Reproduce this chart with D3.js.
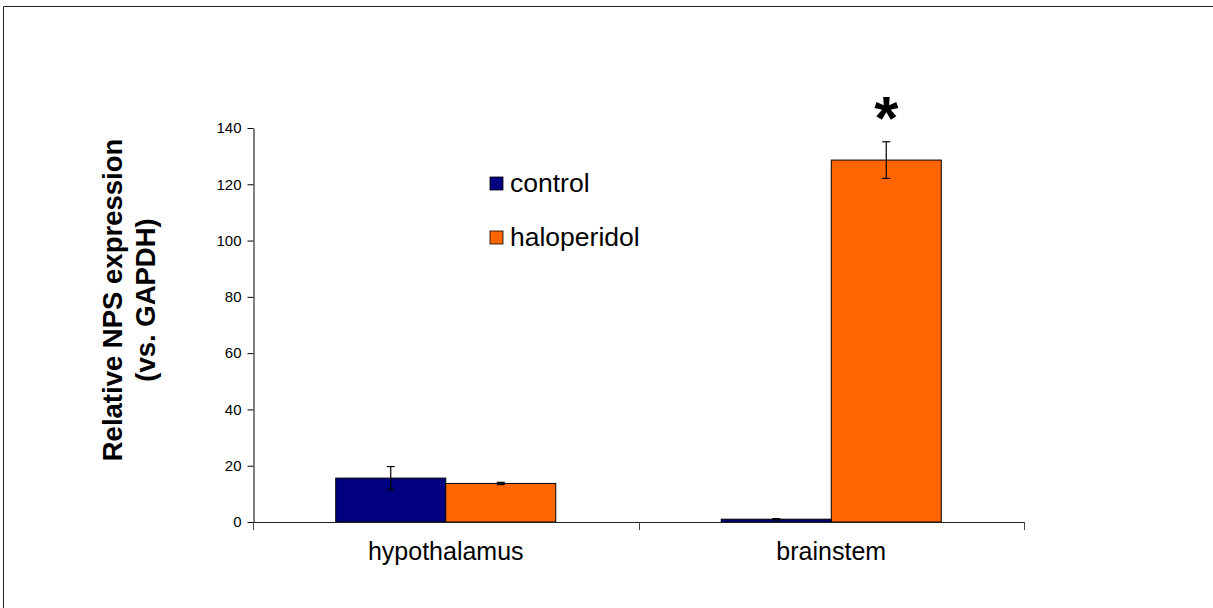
<!DOCTYPE html>
<html>
<head>
<meta charset="utf-8">
<script src="https://cdn.jsdelivr.net/npm/d3@7"></script>
<style>
  body { margin: 0; background: #fff; }
  svg { display: block; font-family: Arial, "Liberation Sans", sans-serif; }
</style>
</head>
<body>
<svg id="chart" width="1213" height="608"></svg>
<script>
// data
let regions = ['hypothalamus', 'brainstem'];
let groups = ['control', 'haloperidol'];
let controlVals = [15.6, 1.0];
let controlErr = [4.1, 0.2];
let haloVals = [13.7, 128.6];
let haloErr = [0.4, 6.5];
let yTicks = [0, 20, 40, 60, 80, 100, 120, 140];
let colors = ['#000080', '#ff6600'];

let svg = d3.select('#chart');

// frame lines (top and left only)
svg.append('path')
    .attr('d', 'M3.5,608 V6.5 H1213')
    .attr('fill', 'none')
    .attr('stroke', '#222')
    .attr('stroke-width', 1);

let plotL = 253, plotR = 1024, plotT = 128, plotB = 522;

let x = d3.scaleBand().domain(regions).range([plotL, plotR]);
let xSub = d3.scaleBand().domain(groups).range([0, x.bandwidth()])
    .paddingInner(0).paddingOuter(0.752);
let y = d3.scaleLinear().domain([0, 140]).range([plotB, plotT]);

let rows = [];
regions.forEach(function (r, i) {
    rows.push({region: r, group: 'control', v: controlVals[i], e: controlErr[i]});
    rows.push({region: r, group: 'haloperidol', v: haloVals[i], e: haloErr[i]});
});

// y axis
let yAxis = d3.axisLeft(y).tickValues(yTicks).tickSizeInner(6).tickSizeOuter(0).tickPadding(6);
let gy = svg.append('g').attr('transform', 'translate(' + (plotL + 0.5) + ',0)').call(yAxis);
gy.select('.domain').attr('stroke', '#000');
gy.selectAll('.tick line').attr('stroke', '#000');
gy.selectAll('.tick text').attr('font-size', 15).attr('fill', '#000')
    .attr('font-family', 'Arial, "Liberation Sans", sans-serif');

// bars
svg.selectAll('rect.bar')
    .data(rows)
    .enter().append('rect')
    .attr('class', 'bar')
    .attr('x', function (d) { return x(d.region) + xSub(d.group); })
    .attr('y', function (d) { return y(d.v); })
    .attr('width', xSub.bandwidth())
    .attr('height', function (d) { return y(0) - y(d.v); })
    .attr('fill', function (d) { return colors[groups.indexOf(d.group)]; })
    .attr('stroke', '#000')
    .attr('stroke-width', 1);

// x axis
let xAxisG = svg.append('g');
xAxisG.append('line')
    .attr('x1', plotL).attr('x2', plotR)
    .attr('y1', plotB + 0.5).attr('y2', plotB + 0.5)
    .attr('stroke', '#222');
let bounds = [plotL, x(regions[1]), plotR];
xAxisG.selectAll('line.ctick')
    .data(bounds)
    .enter().append('line')
    .attr('class', 'ctick')
    .attr('x1', function (d) { return Math.round(d) + 0.5; })
    .attr('x2', function (d) { return Math.round(d) + 0.5; })
    .attr('y1', plotB).attr('y2', plotB + 8)
    .attr('stroke', '#444');
xAxisG.selectAll('text')
    .data(regions)
    .enter().append('text')
    .attr('x', function (d) { return x(d) + x.bandwidth() / 2; })
    .attr('y', 560)
    .attr('text-anchor', 'middle')
    .attr('font-size', 25)
    .attr('fill', '#000')
    .text(function (d) { return d; });

// error bars
let err = svg.append('g').attr('stroke', '#000').attr('stroke-width', 1.2);
rows.forEach(function (d) {
    let cx = x(d.region) + xSub(d.group) + xSub.bandwidth() / 2;
    err.append('line').attr('x1', cx).attr('x2', cx)
        .attr('y1', y(d.v + d.e)).attr('y2', y(d.v - d.e));
    [d.v + d.e, d.v - d.e].forEach(function (v) {
        err.append('line').attr('x1', cx - 4).attr('x2', cx + 4)
            .attr('y1', y(v)).attr('y2', y(v));
    });
});

// significance
svg.append('text')
    .attr('x', x('brainstem') + xSub('haloperidol') + xSub.bandwidth() / 2)
    .attr('y', 139)
    .attr('text-anchor', 'middle')
    .attr('font-size', 62)
    .attr('font-weight', 'bold')
    .text('*');

// legend
let legend = svg.append('g');
groups.forEach(function (g, i) {
    let ly = 183 + i * 54;
    legend.append('rect')
        .attr('x', 490).attr('y', ly - 6)
        .attr('width', 13).attr('height', 13)
        .attr('fill', colors[i]).attr('stroke', '#000').attr('stroke-width', 0.8);
    legend.append('text')
        .attr('x', 510).attr('y', ly + 9)
        .attr('font-size', 26.5)
        .attr('fill', '#000')
        .text(g);
});

// y title
let yt = svg.append('text')
    .attr('transform', 'translate(0,300) rotate(-90)')
    .attr('text-anchor', 'middle')
    .attr('font-size', 27.5)
    .attr('font-weight', 'bold')
    .attr('fill', '#000');
yt.append('tspan').attr('x', 0).attr('y', 122).text('Relative NPS expression');
yt.append('tspan').attr('x', 0).attr('y', 155).text('(vs. GAPDH)');
</script>
</body>
</html>
